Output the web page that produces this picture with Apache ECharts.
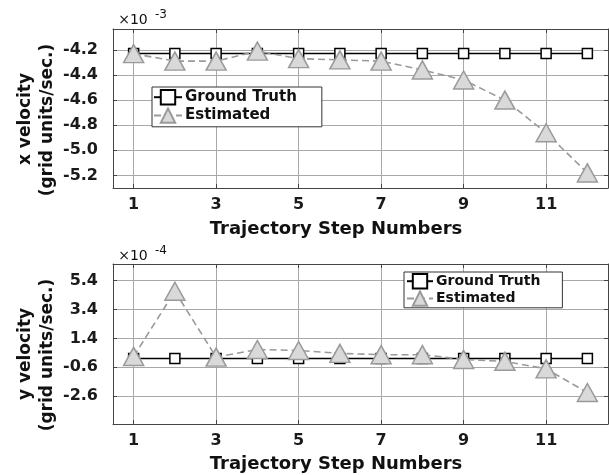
<!DOCTYPE html>
<html>
<head>
<meta charset="utf-8">
<script src="https://cdn.jsdelivr.net/npm/echarts@6/dist/echarts.min.js"></script>
<style>
  html, body { margin: 0; padding: 0; background: #fff; }
  #chart { width: 609px; height: 475px; }
</style>
</head>
<body>
<div id="chart"></div>
<script>
// ---- data ----
const steps = [1, 2, 3, 4, 5, 6, 7, 8, 9, 10, 11, 12];
const xTickValues = [1, 3, 5, 7, 9, 11];

// x velocity, in units of 1e-3 grid units/sec.
const xVelGroundTruth = [-4.23, -4.23, -4.23, -4.23, -4.23, -4.23, -4.23, -4.23, -4.23, -4.23, -4.23, -4.23];
const xVelEstimated   = [-4.23, -4.29, -4.29, -4.21, -4.27, -4.28, -4.29, -4.36, -4.44, -4.60, -4.86, -5.18];
const xVelTicks = [-5.2, -5.0, -4.8, -4.6, -4.4, -4.2];

// y velocity, in units of 1e-4 grid units/sec.
const yVelGroundTruth = [0, 0, 0, 0, 0, 0, 0, 0, 0, 0, 0, 0];
const yVelEstimated   = [0.15, 4.66, 0.10, 0.63, 0.56, 0.36, 0.27, 0.27, -0.06, -0.19, -0.71, -2.35];
const yVelTicks = [-2.6, -0.6, 1.4, 3.4, 5.4];

const seriesNames = ['Ground Truth', 'Estimated'];
const xAxisTitle = 'Trajectory Step Numbers';
const topYTitle = ['x velocity', '(grid units/sec.)'];
const bottomYTitle = ['y velocity', '(grid units/sec.)'];

// ---- styling ----
const FONT = '"DejaVu Sans", "Liberation Sans", sans-serif';
const axisColor = '#444';
const gridColor = '#a8a8a8';

function pairs(ys) { return steps.map((s, i) => [s, ys[i]]); }

function xAxes(gridIndex) {
  return [
    {
      type: 'value', gridIndex, min: 0.5, max: 12.5, position: 'bottom',
      axisLine: { show: true, onZero: false, lineStyle: { color: axisColor, width: 1 } },
      axisTick: { show: true, inside: true, length: 4, customValues: xTickValues, lineStyle: { color: axisColor } },
      axisLabel: { show: true, customValues: xTickValues, margin: 9, color: '#1a1a1a',
                   fontFamily: FONT, fontWeight: 'bold', fontSize: 16 },
      splitLine: { show: true, lineStyle: { color: gridColor, width: 1 } }
    },
    {
      type: 'value', gridIndex, min: 0.5, max: 12.5, position: 'top',
      axisLine: { show: true, onZero: false, lineStyle: { color: axisColor, width: 1 } },
      axisTick: { show: true, inside: true, length: 4, customValues: xTickValues, lineStyle: { color: axisColor } },
      axisLabel: { show: false },
      splitLine: { show: false }
    }
  ];
}

function yAxes(gridIndex, min, max, ticks) {
  return [
    {
      type: 'value', gridIndex, min, max, position: 'left',
      axisLine: { show: true, onZero: false, lineStyle: { color: axisColor, width: 1 } },
      axisTick: { show: true, inside: true, length: 4, customValues: ticks, lineStyle: { color: axisColor } },
      axisLabel: { show: true, customValues: ticks, margin: 15, color: '#1a1a1a',
                   fontFamily: FONT, fontWeight: 'bold', fontSize: 16,
                   formatter: v => (Math.round(v * 10) / 10).toFixed(1) },
      splitLine: { show: true, lineStyle: { color: gridColor, width: 1 } }
    },
    {
      type: 'value', gridIndex, min, max, position: 'right',
      axisLine: { show: true, onZero: false, lineStyle: { color: axisColor, width: 1 } },
      axisTick: { show: true, inside: true, length: 4, customValues: ticks, lineStyle: { color: axisColor } },
      axisLabel: { show: false },
      splitLine: { show: false }
    }
  ];
}

function gtSeries(xi, yi, ys) {
  return {
    name: seriesNames[0], type: 'line', xAxisIndex: xi, yAxisIndex: yi,
    data: pairs(ys), symbol: 'rect', symbolSize: 10, showAllSymbol: true,
    itemStyle: { color: '#ffffff', borderColor: '#000000', borderWidth: 1.5 },
    lineStyle: { color: '#000000', width: 1.5 },
    emphasis: { disabled: true }, z: 3
  };
}
function estSeries(xi, yi, ys) {
  return {
    name: seriesNames[1], type: 'line', xAxisIndex: xi, yAxisIndex: yi,
    data: pairs(ys), symbol: 'triangle', symbolSize: [20, 18], showAllSymbol: true,
    itemStyle: { color: '#d9d9d9', borderColor: '#9a9a9a', borderWidth: 1.5 },
    lineStyle: { color: '#9a9a9a', width: 1.6, type: [7, 4] },
    emphasis: { disabled: true }, z: 4
  };
}

function legendAt(left, top, fontSize, itemWidth, padding, gap) {
  return {
    orient: 'vertical', left, top, data: seriesNames,
    itemWidth, itemHeight: 18, itemGap: gap,
    backgroundColor: '#ffffff', borderColor: '#333333', borderWidth: 1, borderRadius: 0,
    padding, selectedMode: false,
    textStyle: { fontFamily: FONT, fontWeight: 'bold', fontSize, color: '#111', padding: [0, 0, 0, -2] }
  };
}

function text(x, y, str, font, opts) {
  return Object.assign({
    type: 'text', x, y,
    style: Object.assign({ text: str, font, fill: '#111', align: 'center', verticalAlign: 'middle' }, (opts && opts.style) || {})
  }, opts && opts.rotation !== undefined ? { rotation: opts.rotation } : {});
}

const chart = echarts.init(document.getElementById('chart'), null, { renderer: 'canvas' });

const option = {
  animation: false,
  backgroundColor: '#ffffff',
  grid: [
    { left: 113, top: 29, width: 495, height: 159, containLabel: false },
    { left: 113, top: 264, width: 495, height: 160, containLabel: false }
  ],
  xAxis: [].concat(xAxes(0), xAxes(1)),
  yAxis: [].concat(yAxes(0, -5.3, -4.034, xVelTicks), yAxes(1, -4.53, 6.55, yVelTicks)),
  legend: [
    legendAt(152, 87, 15, 28, [2, 25, 3, 1], 2),
    legendAt(404, 272, 14, 26, [1, 22, 1, 2], 1)
  ],
  series: [
    gtSeries(0, 0, xVelGroundTruth),
    estSeries(0, 0, xVelEstimated),
    gtSeries(2, 2, yVelGroundTruth),
    estSeries(2, 2, yVelEstimated)
  ],
  graphic: [
    // exponent labels
    text(133, 20, '×10', '14px ' + FONT, {}),
    text(155, 15, '-3', '12px ' + FONT, { style: { align: 'left' } }),
    text(133, 256, '×10', '14px ' + FONT, {}),
    text(155, 251, '-4', '12px ' + FONT, { style: { align: 'left' } }),
    // x axis titles
    text(336, 229, xAxisTitle, 'bold 18px ' + FONT, {}),
    text(336, 464, xAxisTitle, 'bold 18px ' + FONT, {}),
    // y axis titles
    text(25.5, 119, topYTitle[0], 'bold 17px ' + FONT, { rotation: Math.PI / 2 }),
    text(47.5, 120, topYTitle[1], 'bold 17px ' + FONT, { rotation: Math.PI / 2 }),
    text(25.5, 354, bottomYTitle[0], 'bold 17px ' + FONT, { rotation: Math.PI / 2 }),
    text(47.5, 355, bottomYTitle[1], 'bold 17px ' + FONT, { rotation: Math.PI / 2 })
  ]
};
chart.setOption(option);
</script>
</body>
</html>
